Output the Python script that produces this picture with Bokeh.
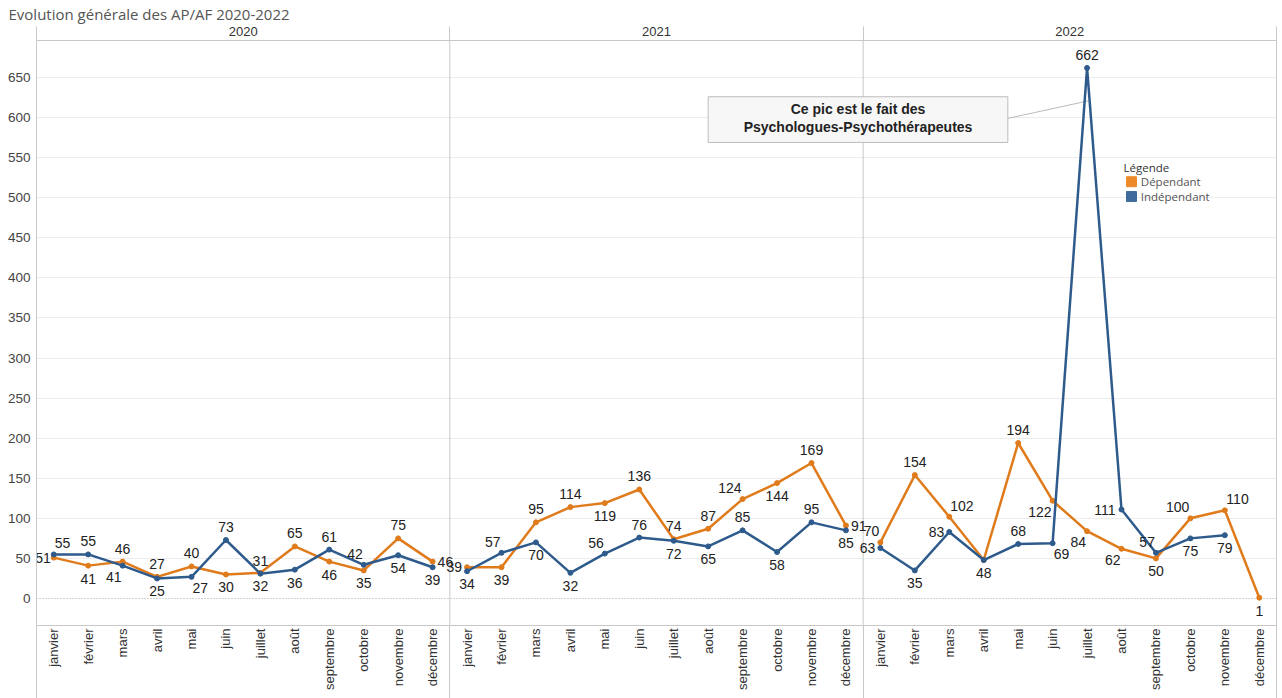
from bokeh.plotting import figure
from bokeh.models import Range1d, FixedTicker, LinearAxis, Span, ColumnDataSource
from bokeh.embed import file_html
from bokeh.resources import INLINE
from bokeh.core.properties import value
import math

title = "Evolution générale des AP/AF 2020-2022"
years = ["2020", "2021", "2022"]
months = ["janvier", "février", "mars", "avril", "mai", "juin", "juillet",
          "août", "septembre", "octobre", "novembre", "décembre"]
series = ["Dépendant", "Indépendant"]

dependant = {
    "2020": [51, 41, 46, 27, 40, 30, 32, 65, 46, 35, 75, 46],
    "2021": [39, 39, 95, 114, 119, 136, 74, 87, 124, 144, 169, 91],
    "2022": [70, 154, 102, 48, 194, 122, 84, 62, 50, 100, 110, 1],
}
independant = {
    "2020": [55, 55, 41, 25, 27, 73, 31, 36, 61, 42, 54, 39],
    "2021": [34, 57, 70, 32, 56, 76, 72, 65, 85, 58, 95, 85],
    "2022": [63, 35, 83, 48, 68, 69, 662, 111, 57, 75, 79, None],
}

# label placement (style only)
dep_pos = {
    "2020": ["L", "b", "a", "a", "a", "b", "b", "a", "b", "b", "a", "r"],
    "2021": ["l", "b", "a", "a", "b", "a", "a", "a", "al", "b", "a", "r"],
    "2022": ["al", "a", "ar", "", "a", "bl", "bl", "bl", "b", "al", "ar", "b"],
}
ind_pos = {
    "2020": ["ar", "a", "bl", "b", "br", "a", "a", "b", "a", "al", "b", "b"],
    "2021": ["b", "al", "b", "b", "al", "a", "b", "b", "a", "b", "a", "b"],
    "2022": ["l", "b", "l", "b", "a", "br", "a", "l", "al", "b", "b", ""],
}

annotation = ["Ce pic est le fait des", "Psychologues-Psychothérapeutes"]

ORANGE = "#E07B1C"
BLUE = "#2E5B8C"
GRID = "#ececec"
BORDER = "#c8c8c8"

p = figure(width=1282, height=698, output_backend="svg", toolbar_location=None,
           x_range=Range1d(0, 36), y_range=Range1d(-33.7, 696.2),
           min_border_left=36, min_border_right=6, min_border_bottom=73,
           min_border_top=40, x_axis_location=None, y_axis_location="left")
p.outline_line_color = BORDER
p.background_fill_color = "white"
p.border_fill_color = "white"

p.title.text = title
p.title.text_font = "Open Sans"
p.title.text_font_size = "15px"
p.title.text_font_style = "normal"
p.title.text_color = "#555555"
p.title.align = "left"
p.title.offset = -28
p.title.standoff = 0

# y axis
ya = p.yaxis[0]
ya.ticker = FixedTicker(ticks=list(range(0, 651, 50)))
ya.major_tick_out = 0
ya.major_tick_in = 0
ya.minor_tick_out = 0
ya.minor_tick_in = 0
ya.axis_line_color = BORDER
ya.major_label_text_font = "Liberation Sans"
ya.major_label_text_font_size = "13.5px"
ya.major_label_text_color = "#444444"
ya.major_label_standoff = 6

p.ygrid.ticker = FixedTicker(ticks=list(range(50, 651, 50)))
p.ygrid.grid_line_color = GRID
p.xgrid.visible = False

# bottom axis (months)
xticks = [i * 12 + m + 0.5 for i in range(len(years)) for m in range(12)]
xb = LinearAxis(ticker=FixedTicker(ticks=xticks, minor_ticks=[0, 12, 24, 36]))
xb.major_label_overrides = {t: months[k % 12] for k, t in enumerate(xticks)}
xb.major_label_orientation = math.pi / 2
xb.major_tick_out = 0
xb.major_tick_in = 0
xb.minor_tick_out = 75
xb.minor_tick_in = 0
xb.minor_tick_line_color = BORDER
xb.axis_line_color = BORDER
xb.major_label_text_font = "Liberation Sans"
xb.major_label_text_font_size = "13px"
xb.major_label_text_color = "#333333"
xb.major_label_standoff = -72
p.add_layout(xb, "below")

# top axis (years)
yticks_top = [i * 12 + 6 for i in range(len(years))]
xt = LinearAxis(ticker=FixedTicker(ticks=yticks_top, minor_ticks=[0, 12, 24, 36]))
xt.major_label_overrides = {t: years[k] for k, t in enumerate(yticks_top)}
xt.major_tick_out = 0
xt.major_tick_in = 0
xt.minor_tick_out = 14
xt.minor_tick_in = 0
xt.minor_tick_line_color = BORDER
xt.axis_line_color = BORDER
xt.major_label_text_font = "Liberation Sans"
xt.major_label_text_font_size = "13px"
xt.major_label_text_color = "#333333"
xt.major_label_standoff = -9
p.add_layout(xt, "above")

# separators and zero line
for s in [12, 24]:
    p.add_layout(Span(location=s, dimension="height", line_color=BORDER,
                      line_width=1, level="underlay"))
p.add_layout(Span(location=0, dimension="width", line_color="#a8a8a8",
                  line_width=1, line_dash="1 2", level="underlay"))

# annotation box (drawn under lines)
p.quad(left=[19.5], right=[28.2], top=[626], bottom=[569],
       fill_color="#f7f7f7", line_color="#bdbdbd", line_width=1)
p.segment(x0=[28.2], y0=[599], x1=[30.55], y1=[621], line_color="#bbbbbb", line_width=1)
p.text(x=[23.85, 23.85], y=[610.5, 588], text=annotation,
       text_align="center", text_baseline="middle",
       text_font=value("Liberation Sans"), text_font_size="14px",
       text_font_style="bold", text_color="#222222")

def offsets(code, txt):
    w = 7.8 * len(txt)
    table = {
        "a": (0, -13), "b": (0, 13),
        "l": (-(w / 2 + 5), 0), "L": (-(w / 2 + 3), 0), "r": (w / 2 + 5, 0),
        "al": (-(w / 2 + 1), -11), "ar": (w / 2 + 1, -11),
        "bl": (-(w / 2 + 1), 11), "br": (w / 2 + 1, 11),
    }
    return table[code]

lab = dict(x=[], y=[], text=[], xo=[], yo=[])

for i, yr in enumerate(years):
    xs = [i * 12 + m + 0.5 for m in range(12)]
    for vals, pos, col in [(dependant[yr], dep_pos[yr], ORANGE),
                           (independant[yr], ind_pos[yr], BLUE)]:
        yv = [float("nan") if v is None else v for v in vals]
        p.line(xs, yv, line_color=col, line_width=2.5, line_join="round")
        p.scatter(xs, yv, size=5, fill_color=col, line_color=col)
        for x, v, code in zip(xs, vals, pos):
            if v is None or not code:
                continue
            t = str(v)
            xo, yo = offsets(code, t)
            lab["x"].append(x); lab["y"].append(v); lab["text"].append(t)
            lab["xo"].append(xo); lab["yo"].append(yo)

p.text(x="x", y="y", text="text", x_offset="xo", y_offset="yo",
       source=ColumnDataSource(lab), text_align="center", text_baseline="middle",
       text_font=value("Liberation Sans"), text_font_size="14px", text_color="#222222")

# legend (manual, Tableau style)
p.text(x=[31.56], y=[538], text=["Légende"], text_align="left", text_baseline="middle",
       text_font=value("Open Sans"), text_font_size="11.5px", text_color="#333333")
p.scatter(x=[31.79, 31.79], y=[520, 501.5], marker="square", size=10,
          fill_color=["#EE8A2A", "#3F6A9C"], line_color=["#EE8A2A", "#3F6A9C"])
p.text(x=[32.06, 32.06], y=[520, 501.5], text=series, text_align="left",
       text_baseline="middle", text_font=value("Open Sans"), text_font_size="11.5px",
       text_color="#555555")

open("out.html", "w").write(file_html(p, INLINE))
